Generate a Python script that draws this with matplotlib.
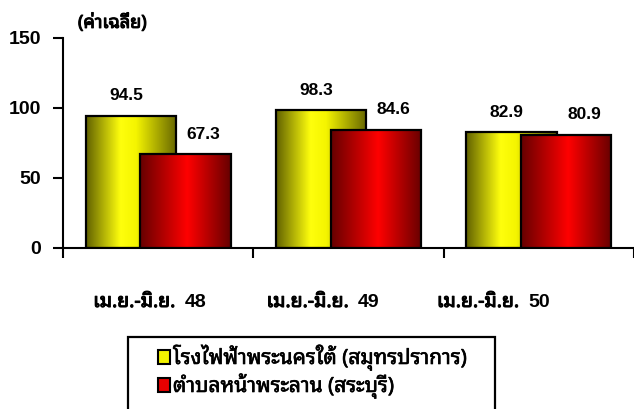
import matplotlib
matplotlib.use("Agg")
import numpy as np
import matplotlib.pyplot as plt
from matplotlib.colors import LinearSegmentedColormap
from matplotlib.patches import Rectangle
import matplotlib.patheffects as pe
import matplotlib.transforms as mtransforms

# --- data -------------------------------------------------------------
periods = ["เม.ย.-มิ.ย. 48", "เม.ย.-มิ.ย. 49", "เม.ย.-มิ.ย. 50"]
series_names = ["โรงไฟฟ้าพระนครใต้ (สมุทรปราการ)", "ตำบลหน้าพระลาน (สระบุรี)"]
phra_nakhon_tai = [94.5, 98.3, 82.9]
na_phra_lan = [67.3, 84.6, 80.9]
y_ticks = [0, 50, 100, 150]
unit_label = "(ค่าเฉลี่ย)"

LATIN = ["Liberation Sans", "DejaVu Sans"]
THAI = ["Noto Sans Thai Looped", "Liberation Sans", "DejaVu Sans"]
plt.rcParams["font.family"] = LATIN

# the Thai face has a single weight; a thin outline gives it a heavier look
heavy = [pe.withStroke(linewidth=0.75, foreground="black")]
medium = [pe.withStroke(linewidth=0.45, foreground="black")]

fig = plt.figure(figsize=(6.34, 4.09), dpi=100)
W, H = 634, 409
ax = fig.add_axes([63 / W, (H - 248) / H, (W - 63) / W, 210 / H])

yellow_cmap = LinearSegmentedColormap.from_list(
    "yel", [(0.0, (0.38, 0.38, 0.0)), (0.38, (1.0, 1.0, 0.05)),
            (0.55, (0.96, 0.96, 0.0)), (1.0, (0.40, 0.40, 0.0))])
red_cmap = LinearSegmentedColormap.from_list(
    "red", [(0.0, (0.40, 0.0, 0.0)), (0.52, (1.0, 0.0, 0.0)),
            (1.0, (0.40, 0.0, 0.0))])

grad = np.linspace(0, 1, 256).reshape(1, -1)
centers = np.arange(len(periods)) + 0.5
bar_w = 0.475
shift = 0.143


def gradient_bars(xs, values, cmap, z):
    bars = ax.bar(xs, values, width=bar_w, facecolor="none",
                  edgecolor="black", linewidth=1.6, zorder=z + 0.5)
    for b in bars:
        x0, w, h = b.get_x(), b.get_width(), b.get_height()
        im = ax.imshow(grad, cmap=cmap, aspect="auto", interpolation="bilinear",
                       extent=[x0, x0 + w, 0, h], zorder=z)
        im.set_clip_path(b)
    return bars


bars_y = gradient_bars(centers - shift, phra_nakhon_tai, yellow_cmap, 2)
bars_r = gradient_bars(centers + shift, na_phra_lan, red_cmap, 3)

# value labels above each bar
for bars, dx in ((bars_y, -0.026), (bars_r, 0.094)):
    for b in bars:
        v = b.get_height()
        ax.annotate(f"{v:.1f}", (b.get_x() + b.get_width() / 2 + dx, v),
                    xytext=(0, 11), textcoords="offset points",
                    ha="center", va="baseline", fontsize=12.5,
                    fontweight="bold", zorder=5)

ax.set_xlim(0, (W - 63) / 191)
ax.set_ylim(0, 150)

for s in ("top", "right"):
    ax.spines[s].set_visible(False)
for s in ("left", "bottom"):
    ax.spines[s].set_linewidth(1.5)

ax.set_yticks(y_ticks)
ax.set_yticklabels([str(t) for t in y_ticks], fontsize=14, fontweight="bold")
ax.tick_params(axis="y", direction="out", length=7.5, width=1.5, pad=8)

ax.set_xticks([0, 1, 2, 3])
ax.set_xticklabels([])
ax.tick_params(axis="x", direction="out", length=7.5, width=1.5)

# period labels below the axis: Thai part and year set separately
split_x = [0.609, 1.520, 2.415]
trans = mtransforms.blended_transform_factory(ax.transData, ax.transAxes)
for x, t in zip(split_x, periods):
    thai, year = t.rsplit(" ", 1)
    ax.text(x - 0.021, -0.281, thai, transform=trans, ha="right", va="baseline",
            fontsize=14, family=THAI, path_effects=heavy)
    ax.text(x + 0.030, -0.281, year, transform=trans, ha="left", va="baseline",
            fontsize=14, fontweight="bold", family=LATIN)

ax.text(15 / 571, 1.048, unit_label, transform=ax.transAxes, ha="left",
        va="baseline", fontsize=13, family=THAI, path_effects=heavy)

# legend box (open at the bottom edge of the figure)
fig.patches.append(Rectangle((128 / W, -0.1), (495 - 128) / W,
                             (0.1 + 1 - 337 / H), transform=fig.transFigure,
                             fill=False, edgecolor="black", linewidth=1.6))
legend_faces = ["#f2f200", "#e80000"]
for k, (name, face) in enumerate(zip(series_names, legend_faces)):
    base = 364 + 28 * k
    fig.patches.append(Rectangle((158 / W, (H - base) / H), 12 / W, 14 / H,
                                 transform=fig.transFigure, facecolor=face,
                                 edgecolor="black", linewidth=1.5))
    fig.text(173 / W, (H - base) / H, name, ha="left", va="baseline",
             fontsize=15, family=THAI, path_effects=medium)

fig.savefig("out.png", dpi=100)
